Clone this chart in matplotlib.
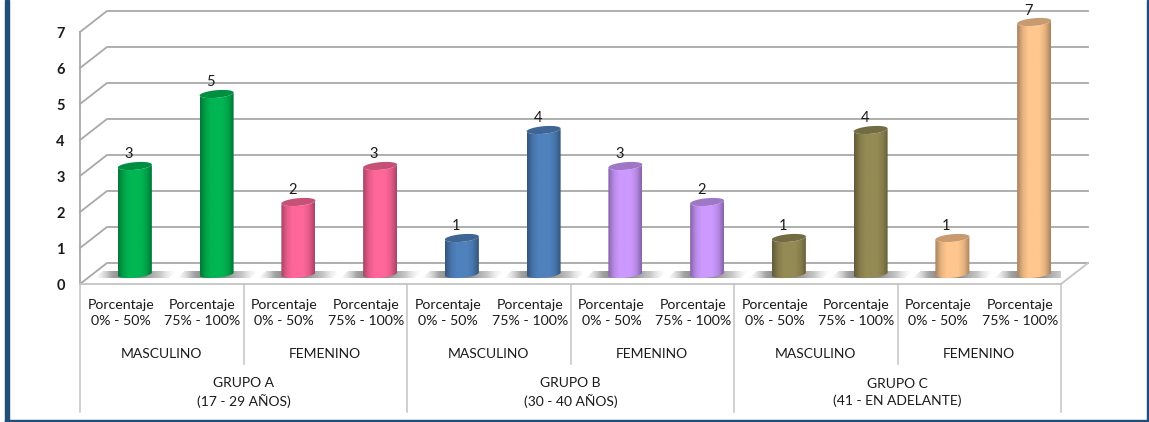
import numpy as np
import matplotlib
matplotlib.use('Agg')
import matplotlib.pyplot as plt
from matplotlib.patches import Polygon, Rectangle
from matplotlib.colors import LinearSegmentedColormap, to_rgb

plt.rcParams['font.family'] = ['Lato', 'DejaVu Sans']

values = [3, 5, 2, 3, 1, 4, 3, 2, 1, 4, 1, 7]
ranges = ['0% - 50%', '75% - 100%'] * 6
sexes = ['MASCULINO', 'FEMENINO'] * 3
groups = ['GRUPO A\n(17 - 29 AÑOS)', 'GRUPO B\n(30 - 40 AÑOS)', 'GRUPO C\n(41 - EN ADELANTE)']
bar_colors = ['#00B652', '#00B652', '#FF6699', '#FF6699', '#4F81BD', '#4F81BD',
              '#CC99FF', '#CC99FF', '#948A54', '#948A54', '#FFC68E', '#FFC68E']
yticks = list(range(8))

W, H = 1149, 422
# px per data unit
PX = 981 / 12
PY = 36
DX, DY = 27 / PX, 21 / PY   # depth of the fake 3d box
GRID = '#a8a8a8'
TXT = '#1a1a1a'

fig = plt.figure(figsize=(W / 100, H / 100), dpi=100, facecolor='white')
ax = fig.add_axes([80 / W, (H - 284) / H, 981 / W, 252 / H])
ax.set_facecolor('none')
for s in ax.spines.values():
    s.set_visible(False)

# walls
for v in yticks:
    ax.plot([0, DX, 12 + DX], [v, v + DY, v + DY], color=GRID, lw=1.3, clip_on=False, zorder=1,
            solid_joinstyle='miter')
ax.plot([0, 0], [0, 7], color=GRID, lw=1.3, clip_on=False, zorder=1)
ax.plot([0, 12, 12 + DX], [0, 0, DY], color='#c4c4c4', lw=1.3, clip_on=False, zorder=1)


def shade(base):
    c = np.array(to_rgb(base))
    return LinearSegmentedColormap.from_list('s', [c * 0.66, c * 0.9, c, c, c, c * 0.9, c * 0.66])


shadow_cmap = LinearSegmentedColormap.from_list(
    'sh', [(0.75, 0.75, 0.75, 0), (0.55, 0.55, 0.55, 0.8), (0.45, 0.45, 0.45, 0.95), (0.55, 0.55, 0.55, 0.95),
           (0.68, 0.68, 0.68, 0.7), (0.9, 0.9, 0.9, 0)])
grad = np.linspace(0, 1, 64).reshape(1, -1)

half = 17 / PX
rise = 1.5 / PY    # tilt of the ellipse
tall = 3.8 / PY
base_y = 10 / PY
t = np.linspace(0, 2 * np.pi, 60)
lower = np.linspace(np.pi, 2 * np.pi, 30)

for i, (val, col) in enumerate(zip(values, bar_colors)):
    cx = i + 0.5 + 14 / PX
    # floor shadow
    sx0, sx1 = cx - 40 / PX, cx + 34 / PX
    sy0, sy1 = 6 / PY, 13 / PY
    im = ax.imshow(grad, cmap=shadow_cmap, extent=[sx0, sx1 + 8 / PX, sy0, sy1], aspect='auto', zorder=2)
    im.set_clip_path(Polygon([[sx0, sy0], [sx1, sy0], [sx1 + 8 / PX, sy1], [sx0 + 8 / PX, sy1]],
                             transform=ax.transData))
    # cylinder body
    top_y = base_y + val
    low = [[cx + half * np.cos(a), base_y + tall * np.sin(a) + rise * np.cos(a)] for a in lower]
    up = [[cx + half * np.cos(a), top_y + tall * np.sin(a) + rise * np.cos(a)] for a in lower[::-1]]
    im = ax.imshow(grad, cmap=shade(col), extent=[cx - half, cx + half, 0, top_y + 1],
                   aspect='auto', zorder=3)
    im.set_clip_box(fig.bbox)
    im.set_clip_path(Polygon(low + up, transform=ax.transData))
    # top cap
    cap = np.c_[cx + half * np.cos(t), top_y + tall * np.sin(t) + rise * np.cos(t)]
    ax.add_patch(Polygon(cap, facecolor=np.array(to_rgb(col)) * 0.78, edgecolor='none', zorder=4,
                         clip_on=False))
    ax.text(cx - 6 / PX, top_y + 11.5 / PY, str(val), ha='center', va='center', fontsize=10.5,
            color=TXT, zorder=5, clip_on=False)

ax.set_xlim(0, 12)
ax.set_ylim(0, 7)
ax.set_yticks(yticks, [str(v) for v in yticks], fontsize=10.5, fontweight='bold', color=TXT)
ax.tick_params(axis='y', length=0, pad=11)
ax.set_xticks(np.arange(12) + 0.5, ['Porcentaje\n' + r for r in ranges], fontsize=10.2, color=TXT,
              linespacing=1.42)
ax.tick_params(axis='x', length=0, pad=11)

# multi level category axis
trans = ax.get_xaxis_transform()
for i in range(13):
    depth = 128 if i % 4 == 0 else (80 if i % 2 == 0 else 0)
    if depth:
        ax.plot([i, i], [0, -depth / 252], color='#c4c4c4', lw=1.1, transform=trans, clip_on=False)
for i, s in enumerate(sexes):
    ax.text(2 * i + 1, -69.5 / 252, s, transform=trans, ha='center', va='center', fontsize=10, color=TXT)
for i, g in enumerate(groups):
    ax.text(4 * i + 2, -108.5 / 252, g, transform=trans, ha='center', va='center', fontsize=10,
            color=TXT, linespacing=1.35)

# blue frame, open at the top
frame = '#1f4e79'
fig.add_artist(Rectangle((5 / W, 0), 3.5 / W, 1, transform=fig.transFigure, color=frame))
fig.add_artist(Rectangle((1147 / W, 0), 2 / W, 1, transform=fig.transFigure, color=frame))
fig.add_artist(Rectangle((5 / W, 0), 1144 / W, 2.5 / H, transform=fig.transFigure, color=frame))

fig.savefig('out.png', dpi=100)
